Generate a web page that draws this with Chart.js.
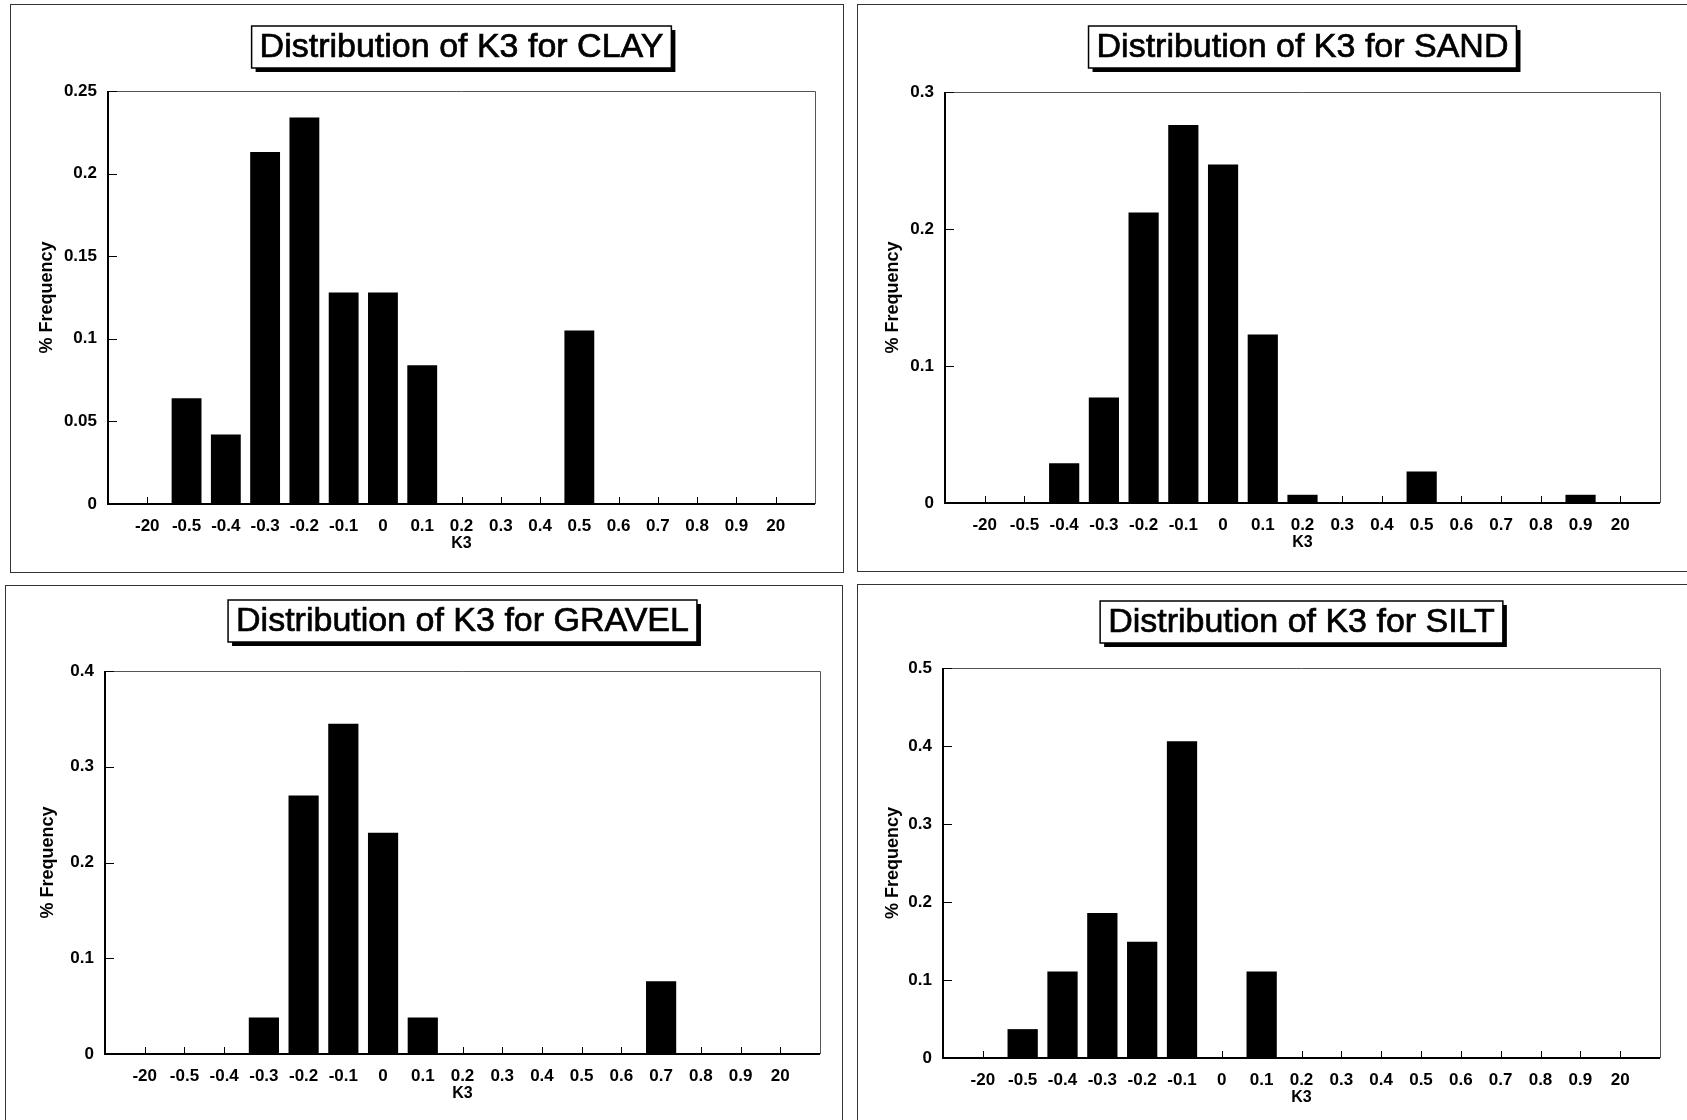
<!DOCTYPE html>
<html>
<head>
<meta charset="utf-8">
<title>Distribution of K3</title>
<script src="https://cdn.jsdelivr.net/npm/chart.js@4.4.1/dist/chart.umd.min.js"></script>
<style>
  html, body { margin: 0; padding: 0; background: #fff; }
  body { width: 1687px; height: 1120px; overflow: hidden; position: relative; }
  .frame { position: absolute; border: 1px solid #333; box-sizing: border-box; }
  canvas { position: absolute; }
</style>
</head>
<body>
<script>
// K3 classes on the x axis (same for all four soils)
const k3Labels = ["-20", "-0.5", "-0.4", "-0.3", "-0.2", "-0.1", "0", "0.1", "0.2",
                  "0.3", "0.4", "0.5", "0.6", "0.7", "0.8", "0.9", "20"];

// % frequency per class
const clayFreq   = [0, 0.064, 0.042, 0.213, 0.234, 0.128, 0.128, 0.084, 0, 0, 0, 0.105, 0, 0, 0, 0, 0];
const sandFreq   = [0, 0, 0.029, 0.077, 0.212, 0.276, 0.247, 0.123, 0.006, 0, 0, 0.023, 0, 0, 0, 0.006, 0];
const gravelFreq = [0, 0, 0, 0.038, 0.27, 0.345, 0.231, 0.038, 0, 0, 0, 0, 0, 0.076, 0, 0, 0];
const siltFreq   = [0, 0.037, 0.111, 0.186, 0.149, 0.406, 0, 0.111, 0, 0, 0, 0, 0, 0, 0, 0, 0];

// y axis tops and steps
const yMaxes = [0.25, 0.3, 0.4, 0.5];
const ySteps = [0.05, 0.1, 0.1, 0.1];

const titles = [
  "Distribution of K3 for CLAY",
  "Distribution of K3 for SAND",
  "Distribution of K3 for GRAVEL",
  "Distribution of K3 for SILT"
];
const series = [clayFreq, sandFreq, gravelFreq, siltFreq];

// page layout (pixels): outer frame, plot box, title centre y, y-title centre x
const layouts = [
  { frame: [10, 4, 834, 569],  plot: [108, 91, 815, 504],   titleY: 47,  yTitleX: 47 },
  { frame: [857, 4, 850, 568], plot: [945, 92, 1660, 503],  titleY: 47,  yTitleX: 893 },
  { frame: [5, 585, 838, 560], plot: [105, 671, 820, 1054], titleY: 621, yTitleX: 48 },
  { frame: [857, 584, 850, 560], plot: [943, 668, 1660, 1058], titleY: 622, yTitleX: 893 }
];

Chart.defaults.font.family = "'Liberation Sans', Arial, sans-serif";
Chart.defaults.color = "#000";

// boxed title with a drop shadow, centred on the plot area
const boxTitle = {
  id: "boxTitle",
  afterDraw(chart, args, opts) {
    const ctx = chart.ctx;
    const area = chart.chartArea;
    ctx.save();
    ctx.font = "34px 'Liberation Sans', Arial, sans-serif";
    const tw = ctx.measureText(opts.text).width;
    const w = tw + 16, h = 42;
    const x = (area.left + area.right) / 2 - w / 2;
    const y = opts.y - h / 2;
    ctx.fillStyle = "#000";
    ctx.fillRect(x + 4, y + 4, w, h);
    ctx.fillStyle = "#fff";
    ctx.fillRect(x, y, w, h);
    ctx.strokeStyle = "#000";
    ctx.lineWidth = 1.5;
    ctx.strokeRect(x, y, w, h);
    ctx.fillStyle = "#000";
    ctx.textAlign = "center";
    ctx.textBaseline = "middle";
    ctx.fillText(opts.text, x + w / 2, y + h / 2 + 1);
    // scanned original looks a bit heavier
    ctx.lineWidth = 0.7;
    ctx.strokeText(opts.text, x + w / 2, y + h / 2 + 1);
    ctx.restore();
  }
};

// plot box with inward tick marks
const plotFrame = {
  id: "plotFrame",
  afterDatasetsDraw(chart) {
    const ctx = chart.ctx;
    const { left, right, top, bottom } = chart.chartArea;
    const xs = chart.scales.x, ys = chart.scales.y;
    ctx.save();
    ctx.strokeStyle = "#555";
    ctx.lineWidth = 1;
    ctx.beginPath();
    ctx.moveTo(left, top + 0.5);
    ctx.lineTo(right + 0.5, top + 0.5);
    ctx.lineTo(right + 0.5, bottom);
    ctx.stroke();
    ctx.strokeStyle = "#000";
    ctx.lineWidth = 2;
    ctx.beginPath();
    ctx.moveTo(left, top);
    ctx.lineTo(left, bottom);
    ctx.lineTo(right, bottom);
    ctx.stroke();
    ctx.lineWidth = 1;
    ctx.beginPath();
    ys.ticks.forEach(t => {
      const py = Math.round(ys.getPixelForValue(t.value)) + 0.5;
      ctx.moveTo(left, py);
      ctx.lineTo(left + 9, py);
    });
    k3Labels.forEach((l, i) => {
      const px = Math.round(xs.getPixelForValue(i)) + 0.5;
      ctx.moveTo(px, bottom);
      ctx.lineTo(px, bottom - 7);
    });
    ctx.stroke();
    ctx.restore();
  }
};

layouts.forEach((lay, k) => {
  const [fx, fy, fw, fh] = lay.frame;
  const frame = document.createElement("div");
  frame.className = "frame";
  frame.style.left = fx + "px";
  frame.style.top = fy + "px";
  frame.style.width = fw + "px";
  frame.style.height = fh + "px";
  document.body.appendChild(frame);

  const [pl, pt, pr, pb] = lay.plot;
  const cx = fx + 1, cy = fy + 1;
  const cw = pr + 40 - cx;
  const xAxisH = 60;
  const ch = pb + xAxisH - cy;
  let yAxisW = pl - cx;

  const canvas = document.createElement("canvas");
  canvas.width = cw;
  canvas.height = ch;
  canvas.style.left = cx + "px";
  canvas.style.top = cy + "px";
  canvas.style.width = cw + "px";
  canvas.style.height = ch + "px";
  document.body.appendChild(canvas);

  const chart = new Chart(canvas.getContext("2d"), {
    type: "bar",
    data: {
      datasets: [{
        label: "% Frequency",
        data: series[k].map((v, i) => ({ x: i, y: v })),
        backgroundColor: "#000",
        borderWidth: 0,
        barPercentage: 0.76,
        categoryPercentage: 1.0
      }]
    },
    options: {
      responsive: false,
      animation: false,
      layout: { padding: { left: 0, top: pt - cy, right: cw - (pr - cx), bottom: 0 } },
      scales: {
        x: {
          type: "linear",
          offset: false,
          min: -1,
          max: k3Labels.length,
          grid: { display: false, drawTicks: false, offset: false },
          border: { display: false },
          afterFit(scale) { scale.height = xAxisH; },
          ticks: {
            stepSize: 1,
            autoSkip: false,
            maxRotation: 0,
            padding: 12,
            font: { size: 17, weight: "bold" },
            callback: v => (k3Labels[v] !== undefined ? k3Labels[v] : "")
          },
          title: {
            display: true,
            text: "K3",
            font: { size: 16, weight: "bold" },
            padding: { top: 0, bottom: 11 }
          }
        },
        y: {
          min: 0,
          max: yMaxes[k],
          grid: { display: false, drawTicks: false },
          border: { display: false },
          afterFit(scale) { scale.width = yAxisW; },
          ticks: {
            stepSize: ySteps[k],
            padding: 11,
            font: { size: 17, weight: "bold" },
            callback: v => String(+v.toFixed(2))
          },
          title: {
            display: true,
            text: "% Frequency",
            font: { size: 18, weight: "bold" },
            padding: { top: lay.yTitleX - cx - 10.8, bottom: 0 }
          }
        }
      },
      plugins: {
        legend: { display: false },
        tooltip: { enabled: false },
        boxTitle: { text: titles[k], y: lay.titleY - cy }
      }
    },
    plugins: [boxTitle, plotFrame]
  });

  // keep the plot box where the figure has it
  const diff = chart.chartArea.left - (pl - cx);
  if (Math.abs(diff) > 0.5) {
    yAxisW -= diff;
    chart.update();
  }
});
</script>
</body>
</html>
